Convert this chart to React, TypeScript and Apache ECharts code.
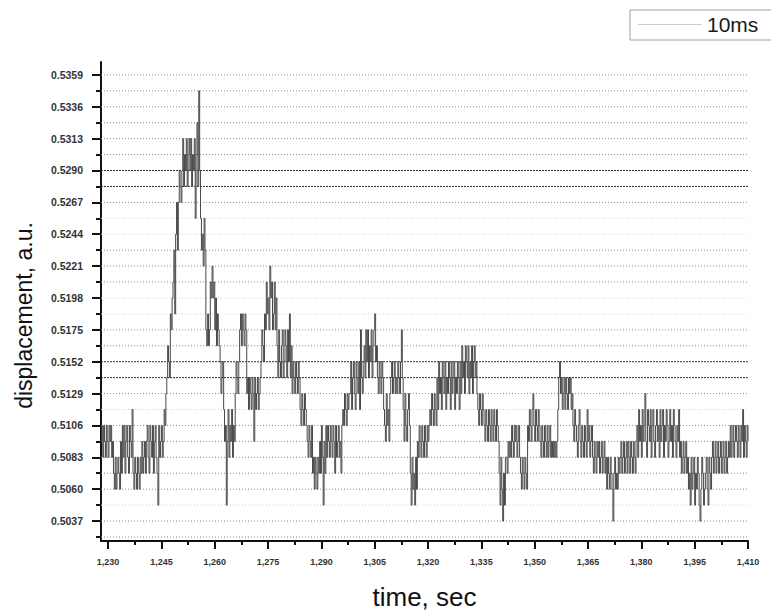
import React, { useEffect, useRef } from "react";
import * as echarts from "echarts";

// Tick label values
const yTicks = [0.5037, 0.506, 0.5083, 0.5106, 0.5129, 0.5152, 0.5175, 0.5198, 0.5221, 0.5244, 0.5267, 0.529, 0.5313, 0.5336, 0.5359];
const xTicks = [1230, 1245, 1260, 1275, 1290, 1305, 1320, 1335, 1350, 1365, 1380, 1395, 1410];

// Axis extents
const X_MIN = 1228;
const X_MAX = 1410;
const Y_MIN = 0.50226;
const Y_MAX = 0.53683;

// Trace sampling: start time and spacing (s)
const T0 = 1228;
const DT = 0.25;

// Displacement, in quantisation levels (half a label step)
// above 0.5037; one value every 0.25 s starting at t = 1228 s (one row = 5 s).
const levels = [
  5, 6, 4, 6, 5, 4, 6, 5, 4, 6, 5, 6, 4, 5, 3, 2, 4, 2, 3, 4, // 1228
  3, 2, 5, 3, 6, 4, 6, 3, 5, 6, 4, 3, 6, 5, 4, 7, 3, 2, 4, 3, // 1233
  2, 4, 3, 2, 4, 3, 5, 3, 4, 5, 3, 5, 6, 4, 3, 6, 5, 4, 6, 3, // 1238
  5, 6, 4, 3, 1, 6, 4, 5, 6, 4, 5, 7, 6, 8, 9, 11, 10, 9, 13, 12, // 1243
  14, 15, 17, 13, 18, 20, 17, 20, 22, 21, 20, 22, 24, 21, 23, 22, 24, 21, 23, 24, // 1248
  22, 24, 21, 23, 22, 24, 19, 23, 25, 21, 27, 22, 19, 17, 18, 16, 19, 17, 12, 11, // 1253
  13, 11, 12, 15, 14, 16, 14, 15, 12, 14, 11, 13, 12, 11, 10, 8, 9, 10, 7, 5, // 1258
  6, 1, 5, 7, 4, 6, 5, 7, 4, 6, 5, 8, 10, 9, 8, 10, 12, 13, 11, 13, // 1263
  12, 11, 13, 12, 8, 9, 7, 9, 8, 7, 9, 8, 5, 9, 7, 8, 9, 7, 8, 9, // 1268
  10, 12, 11, 10, 13, 12, 15, 13, 14, 12, 16, 14, 15, 12, 13, 15, 12, 14, 11, 9, // 1273
  12, 10, 9, 11, 12, 9, 10, 12, 11, 9, 12, 10, 13, 9, 11, 8, 10, 9, 8, 10, // 1278
  9, 8, 10, 9, 7, 6, 8, 7, 6, 8, 7, 6, 5, 4, 6, 5, 4, 6, 3, 4, // 1283
  2, 4, 3, 2, 4, 3, 5, 3, 6, 4, 1, 5, 3, 6, 4, 6, 5, 4, 6, 5, // 1288
  4, 6, 5, 3, 6, 4, 5, 6, 4, 5, 3, 6, 7, 6, 8, 7, 6, 8, 7, 8, // 1293
  8, 10, 7, 9, 10, 8, 7, 10, 9, 8, 10, 7, 12, 9, 8, 10, 11, 9, 12, 10, // 1298
  12, 9, 11, 10, 12, 9, 11, 12, 13, 10, 11, 9, 8, 10, 9, 8, 10, 9, 7, 6, // 1303
  5, 8, 6, 7, 5, 8, 9, 10, 8, 9, 10, 8, 9, 8, 10, 9, 8, 10, 12, 9, // 1308
  7, 5, 8, 6, 5, 7, 8, 6, 3, 1, 4, 2, 3, 1, 4, 2, 5, 4, 6, 5, // 1313
  4, 6, 5, 4, 6, 5, 4, 6, 5, 6, 7, 6, 8, 7, 6, 8, 7, 6, 9, 7, // 1318
  10, 8, 9, 7, 10, 9, 8, 10, 7, 9, 8, 10, 9, 7, 10, 8, 9, 10, 7, 9, // 1323
  8, 10, 9, 7, 10, 8, 11, 9, 10, 8, 11, 10, 9, 11, 8, 10, 9, 11, 8, 10, // 1328
  11, 9, 10, 8, 7, 6, 8, 7, 6, 8, 7, 6, 5, 7, 6, 5, 7, 6, 5, 7, // 1333
  6, 5, 7, 6, 5, 7, 6, 5, 3, 1, 4, 2, 0, 3, 1, 4, 4, 3, 5, 4, // 1338
  5, 4, 6, 5, 4, 6, 5, 6, 4, 5, 6, 4, 3, 2, 4, 3, 2, 4, 3, 2, // 1343
  6, 5, 7, 6, 5, 7, 8, 6, 5, 7, 6, 5, 7, 6, 5, 4, 6, 5, 4, 6, // 1348
  5, 4, 6, 4, 5, 6, 4, 5, 4, 5, 4, 5, 4, 5, 7, 9, 10, 8, 9, 7, // 1353
  8, 9, 7, 9, 8, 7, 9, 8, 9, 7, 8, 6, 5, 7, 6, 5, 4, 6, 7, 5, // 1358
  4, 6, 5, 4, 6, 5, 4, 7, 5, 6, 4, 5, 6, 4, 3, 5, 4, 3, 5, 4, // 1363
  5, 3, 4, 5, 3, 4, 5, 3, 4, 2, 4, 3, 2, 4, 3, 2, 0, 3, 4, 2, // 1368
  3, 2, 4, 3, 4, 5, 3, 4, 5, 3, 4, 5, 3, 5, 4, 3, 5, 4, 3, 5, // 1373
  4, 3, 5, 6, 4, 7, 5, 6, 4, 7, 5, 6, 8, 5, 4, 7, 6, 5, 7, 4, // 1378
  6, 7, 5, 4, 6, 7, 5, 6, 4, 7, 5, 6, 7, 4, 6, 5, 7, 6, 4, 5, // 1383
  7, 5, 6, 4, 7, 6, 5, 4, 6, 5, 7, 4, 5, 3, 4, 5, 3, 4, 5, 3, // 1388
  4, 2, 3, 1, 4, 2, 3, 4, 1, 3, 2, 4, 3, 1, 0, 2, 4, 3, 1, 2, // 1393
  3, 4, 2, 1, 4, 3, 2, 4, 5, 3, 4, 5, 3, 4, 5, 3, 4, 5, 3, 4, // 1398
  5, 3, 4, 5, 3, 4, 5, 4, 6, 4, 5, 6, 4, 5, 6, 5, 4, 6, 5, 4, // 1403
  6, 5, 7, 4, 6, 5, 4, 6, 5, // 1408
];

const SERIES_NAME = "10ms";

// Dotted horizontal reference lines at every quantisation level
const gridLevels = [-1, 0, 1, 2, 3, 4, 5, 6, 7, 8, 9, 10, 11, 12, 13, 14, 15, 16, 17, 18, 19, 20, 21, 22, 23, 24, 25, 26, 27, 28];
const darkLevels = [9, 10, 21, 22];
const faintLevels = [1, 7, 13, 14, 18, 19];

const FONT = "'Liberation Sans', Arial, Helvetica, sans-serif";

export default function App() {
  const ref = useRef<HTMLDivElement>(null);

  useEffect(() => {
    if (!ref.current) return;
    const chart = echarts.init(ref.current, undefined, { renderer: "svg" });

    const BASE = yTicks[0];
    const HALF = (yTicks[1] - yTicks[0]) / 2;
    const data = levels.map((k, i) => [T0 + i * DT, BASE + k * HALF]);
    const xMinor = xTicks.slice(0, -1).map((v, i) => (v + xTicks[i + 1]) / 2);
    const yMinor = [BASE - HALF].concat(yTicks.slice(0, -1).map((v, i) => (v + yTicks[i + 1]) / 2));

    const gridData = gridLevels.map((k) => [
      X_MIN,
      BASE + k * HALF,
      darkLevels.includes(k) ? 1 : faintLevels.includes(k) ? 2 : 0,
    ]);

    const option: any = {
      animation: false,
      backgroundColor: "#ffffff",
      grid: { left: 101, right: 23, top: 62, bottom: 72, containLabel: false, outerBoundsMode: "none" },
      legend: {
        data: [{ name: SERIES_NAME, icon: "rect" }],
        left: 630,
        top: 10,
        padding: [4, 24, 5, 8],
        itemWidth: 64,
        itemHeight: 1,
        itemGap: 4,
        borderColor: "#a0a0a0",
        borderWidth: 1,
        itemStyle: { color: "#cccccc" },
        textStyle: { fontSize: 21, color: "#1a1a1a", fontFamily: FONT },
        selectedMode: false,
      },
      xAxis: [
        {
          type: "value",
          min: X_MIN,
          max: X_MAX,
          position: "bottom",
          name: "time, sec",
          nameLocation: "middle",
          nameGap: 43,
          nameTextStyle: { fontSize: 26, color: "#111", fontFamily: FONT },
          axisLine: { show: true, onZero: false, lineStyle: { color: "#111", width: 2 } },
          axisTick: { show: true, customValues: xTicks, length: 8, lineStyle: { color: "#111", width: 2 } },
          axisLabel: {
            customValues: xTicks,
            formatter: (v: number) => v.toLocaleString("en-US"),
            fontSize: 9,
            fontWeight: "bold",
            color: "#333",
            margin: 16,
            fontFamily: FONT,
          },
          splitLine: { show: false },
        },
        {
          type: "value",
          min: X_MIN,
          max: X_MAX,
          position: "bottom",
          axisLine: { show: false, onZero: false },
          axisTick: { show: true, customValues: xMinor, length: 4, lineStyle: { color: "#111", width: 2 } },
          axisLabel: { show: false },
          splitLine: { show: false },
        },
      ],
      yAxis: [
        {
          type: "value",
          min: Y_MIN,
          max: Y_MAX,
          position: "left",
          name: "displacement, a.u.",
          nameLocation: "middle",
          nameGap: 66,
          nameTextStyle: { fontSize: 23, color: "#111", fontFamily: FONT, padding: [0, 28, 0, 0] },
          axisLine: { show: true, onZero: false, lineStyle: { color: "#111", width: 2 } },
          axisTick: { show: true, customValues: yTicks, length: 9, lineStyle: { color: "#111", width: 2 } },
          axisLabel: {
            customValues: yTicks,
            formatter: (v: number) => v.toFixed(4),
            fontSize: 10.5,
            fontWeight: "bold",
            color: "#333",
            margin: 18,
            fontFamily: FONT,
          },
          splitLine: { show: false },
        },
        {
          type: "value",
          min: Y_MIN,
          max: Y_MAX,
          position: "left",
          axisLine: { show: false, onZero: false },
          axisTick: { show: true, customValues: yMinor, length: 5, lineStyle: { color: "#111", width: 2 } },
          axisLabel: { show: false },
          splitLine: { show: false },
        },
      ],
      series: [
        {
          name: "levels-grid",
          type: "custom",
          coordinateSystem: "cartesian2d",
          xAxisIndex: 0,
          yAxisIndex: 0,
          silent: true,
          z: 1,
          encode: { x: 0, y: 1 },
          data: gridData,
          renderItem: (_params: any, api: any) => {
            const v = api.value(1);
            const cls = api.value(2);
            const p1 = api.coord([X_MIN, v]);
            const p2 = api.coord([X_MAX, v]);
            return {
              type: "line",
              shape: { x1: p1[0], y1: p1[1], x2: p2[0], y2: p2[1] },
              style: {
                stroke: cls === 1 ? "#2e2e2e" : cls === 2 ? "#d2d2d2" : "#8e8e8e",
                lineWidth: 1,
                lineDash: cls === 1 ? [2, 1] : [1, 2],
              },
            };
          },
        },
        {
          name: SERIES_NAME,
          type: "line",
          xAxisIndex: 0,
          yAxisIndex: 0,
          step: "end",
          symbol: "none",
          showSymbol: false,
          data,
          lineStyle: { color: "#484848", width: 1 },
          itemStyle: { color: "#484848" },
          z: 3,
        },
      ],
    };

    chart.setOption(option);
    return () => chart.dispose();
  }, []);

  return (
    <div
      ref={ref}
      style={{ position: "fixed", left: 0, top: 0, width: 771, height: 613, background: "#fff" }}
    />
  );
}
